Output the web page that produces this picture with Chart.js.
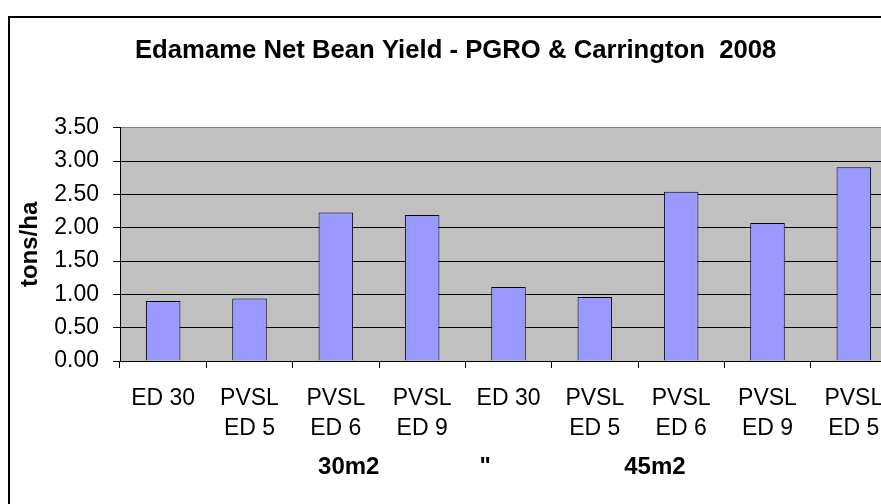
<!DOCTYPE html>
<html>
<head>
<meta charset="utf-8">
<script src="https://cdn.jsdelivr.net/npm/chart.js@4/dist/chart.umd.min.js"></script>
<style>
    html, body {
        margin: 0;
        padding: 0;
        background: #ffffff;
        overflow: hidden;
        width: 881px;
        height: 504px;
    }
    #frame {
        position: absolute;
        left: 8px;
        top: 16px;
        width: 1000px;
        height: 1000px;
        border: 2px solid #000000;
    }
    #wrap {
        position: absolute;
        left: 0;
        top: 0;
        width: 900px;
        height: 504px;
    }
</style>
</head>
<body>
<div id="frame"></div>
<div id="wrap">
    <canvas id="yieldChart"></canvas>
</div>
<script>

const categories = [
    ["ED 30"],
    ["PVSL", "ED 5"],
    ["PVSL", "ED 6"],
    ["PVSL", "ED 9"],
    ["ED 30"],
    ["PVSL", "ED 5"],
    ["PVSL", "ED 6"],
    ["PVSL", "ED 9"],
    ["PVSL", "ED 5"]
];

const yieldValues = [
    0.90, 0.94, 2.23, 2.19, 1.11, 0.96, 2.54, 2.07, 2.91
];

const yTicks = [
    0, 0.5, 1, 1.5, 2, 2.5, 3, 3.5
];

// leading spaces nudge the centred title a little to the right
const chartTitle =
    "  Edamame Net Bean Yield - PGRO & Carrington  2008";

const yTitle = "tons/ha";

// one axis title, spaced out the way the sheet had it
const xTitle =
    "30m2" + " ".repeat(15) + "\"" + " ".repeat(20) + "45m2" + "  ";

const fontFamily =
    "'Liberation Sans', Arial, sans-serif";

// grey plot background
const plotBackground = {
    id: "plotBackground",
    beforeDraw: function(chart) {
        const area = chart.chartArea;
        const ctx = chart.ctx;
        ctx.save();
        ctx.fillStyle = "#c0c0c0";
        ctx.fillRect(
            area.left,
            area.top,
            area.right - area.left,
            area.bottom - area.top
        );
        ctx.restore();
    }
};

function renderYieldChart() {

    const canvas =
        document.getElementById("yieldChart");

    if (!canvas) {
        return;
    }

    window.yieldChart =
        new Chart(
            canvas,
            {
                type: "bar",

                data: {
                    labels: categories,
                    datasets: [
                        {
                            data: yieldValues,
                            backgroundColor: "#9999ff",
                            borderColor: "#000000",
                            borderWidth: 1,
                            barPercentage: 0.4,
                            categoryPercentage: 1.0
                        }
                    ]
                },

                options: {
                    responsive: true,
                    maintainAspectRatio: false,
                    animation: false,
                    layout: {
                        padding: {
                            left: 0,
                            right: 3,
                            top: 0,
                            bottom: 0
                        }
                    },
                    plugins: {
                        legend: {
                            display: false
                        },
                        tooltip: {
                            enabled: false
                        },
                        title: {
                            display: true,
                            text: chartTitle,
                            color: "#000000",
                            font: {
                                family: fontFamily,
                                size: 25.7,
                                weight: "bold",
                                lineHeight: 1.2
                            },
                            padding: {
                                top: 35,
                                bottom: 62
                            }
                        }
                    },
                    scales: {
                        x: {
                            afterFit: function(scale) {
                                scale.height = 143;
                            },
                            grid: {
                                offset: true,
                                drawOnChartArea: false,
                                tickLength: 7,
                                tickColor: "#000000"
                            },
                            border: {
                                color: "#000000",
                                width: 1
                            },
                            ticks: {
                                color: "#000000",
                                padding: 15,
                                maxRotation: 0,
                                autoSkip: false,
                                font: {
                                    family: fontFamily,
                                    size: 23,
                                    lineHeight: 1.32
                                }
                            },
                            title: {
                                display: true,
                                text: xTitle,
                                color: "#000000",
                                font: {
                                    family: fontFamily,
                                    size: 24,
                                    weight: "bold",
                                    lineHeight: 1.2
                                },
                                padding: {
                                    top: 0,
                                    bottom: 22
                                }
                            }
                        },
                        y: {
                            min: 0,
                            max: 3.5,
                            afterFit: function(scale) {
                                scale.width = 120;
                            },
                            afterBuildTicks: function(scale) {
                                scale.ticks = yTicks.map(
                                    function(v) {
                                        return { value: v };
                                    }
                                );
                            },
                            grid: {
                                color: function(ctx) {
                                    if (ctx.tick && ctx.tick.value === 3.5) {
                                        return "#808080";
                                    }
                                    return "#000000";
                                },
                                tickColor: "#000000",
                                tickLength: 7,
                                lineWidth: 1
                            },
                            border: {
                                color: "#000000",
                                width: 1
                            },
                            ticks: {
                                color: "#000000",
                                padding: 14,
                                font: {
                                    family: fontFamily,
                                    size: 23
                                },
                                callback: function(value) {
                                    return Number(value).toFixed(2);
                                }
                            },
                            title: {
                                display: true,
                                text: yTitle,
                                color: "#000000",
                                font: {
                                    family: fontFamily,
                                    size: 24,
                                    weight: "bold",
                                    lineHeight: 1.2
                                },
                                padding: {
                                    top: 16,
                                    bottom: 0
                                }
                            }
                        }
                    }
                },

                plugins: [plotBackground]
            }
        );

}

renderYieldChart();

</script>
</body>
</html>
